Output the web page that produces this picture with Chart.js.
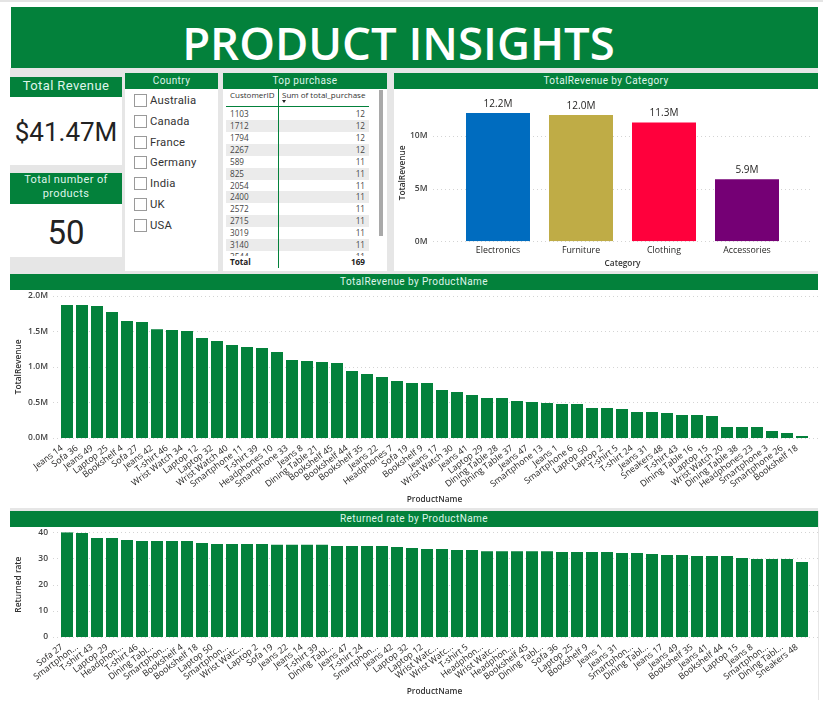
<!DOCTYPE html>
<html><head><meta charset="utf-8">
<script src="https://cdn.jsdelivr.net/npm/chart.js@4/dist/chart.umd.min.js"></script>
<style>
html,body{margin:0;padding:0;background:#fff;width:823px;height:707px;overflow:hidden}
body{position:relative;font-family:"Open Sans",sans-serif}
.a{position:absolute}
.g{background:#03813b}
.w{background:#fff}
.h{color:#dff5ea;font-family:Roboto,sans-serif;text-align:center;letter-spacing:.4px}
canvas{position:absolute;display:block}
</style></head><body>
<div class="a" style="left:0;top:0;width:823px;height:2px;background:#e4e4e4"></div>
<div class="a" style="left:10px;top:68px;width:808px;height:206px;background:#e6e6e6"></div>
<div class="a" style="left:10px;top:508px;width:808px;height:3px;background:#e6e6e6"></div>
<div class="a" style="left:818px;top:511px;width:1px;height:189px;background:#e6e6e6"></div>
<div class="a g" id="banner" style="left:11px;top:7px;width:807px;height:61px;color:#fff;font:600 45.5px 'Open Sans',sans-serif;line-height:70px;text-align:center;box-sizing:border-box;padding-right:32px"></div>

<div class="a g h" id="kpi1h" style="left:10px;top:77px;width:112px;height:20px;line-height:18px;font-size:13px"></div>
<div class="a w" id="kpi1" style="left:10px;top:97px;width:112px;height:68px;text-align:center;font:400 26px/71px Roboto,sans-serif;color:#222"></div>
<div class="a g h" id="kpi2h" style="left:10px;top:173px;width:112px;height:31px;line-height:14px;font-size:11px;box-sizing:border-box"></div>
<div class="a w" id="kpi2" style="left:10px;top:204px;width:112px;height:53px;text-align:center;font:400 33px/57px Roboto,sans-serif;color:#222"></div>

<div class="a w" style="left:125px;top:73px;width:93px;height:198px"></div>
<div class="a g h" style="left:125px;top:73px;width:93px;height:16px;line-height:16px;font-size:10px">Country</div>
<div class="a" id="slicer"></div>

<div class="a w" style="left:223px;top:73px;width:164px;height:198px"></div>
<div class="a g h" style="left:223px;top:73px;width:164px;height:16px;line-height:16px;font-size:10px">Top purchase</div>
<div class="a" id="tbl"></div>

<div class="a w" style="left:394px;top:89px;width:424px;height:182px"></div>
<div class="a g h" style="left:394px;top:73px;width:424px;height:16px;line-height:16px;font-size:10px">TotalRevenue by Category</div>
<canvas id="c1" width="424" height="182" style="left:394px;top:89px"></canvas>

<div class="a g h" style="left:10px;top:274px;width:808px;height:16px;line-height:16px;font-size:10px">TotalRevenue by ProductName</div>
<canvas id="c2" width="808" height="218" style="left:10px;top:290px"></canvas>

<div class="a g h" style="left:10px;top:511px;width:808px;height:16px;line-height:16px;font-size:10px">Returned rate by ProductName</div>
<canvas id="c3" width="808" height="173" style="left:10px;top:527px"></canvas>

<script>
const titleText = "PRODUCT INSIGHTS";
const kpiRevenue = "$41.47M";
const kpiProducts = "50";
const countries = ["Australia","Canada","France","Germany","India","UK","USA"];
const customerIds = ["1103","1712","1794","2267","589","825","2054","2400","2572","2715","3019","3140","3544"];
const purchases = [12,12,12,12,11,11,11,11,11,11,11,11,11];
const purchaseTotal = 169;

const categories = ["Electronics","Furniture","Clothing","Accessories"];
const categoryRevenue = [12200000,12000000,11300000,5900000];
const categoryColors = ["#006cbf","#bfac46","#ff003c","#750075"];
const categoryTicks = [0,5000000,10000000];

const productNames = ["Jeans 14","Sofa 36","Jeans 49","Laptop 25","Bookshelf 4","Sofa 27","Jeans 42","T-shirt 46","Wrist Watch 34","Laptop 12","Laptop 32","Wrist Watch 40","Smartphone 11","T-shirt 39","Headphones 10","Smartphone 33","Jeans 8","Dining Table 21","Bookshelf 45","Bookshelf 44","Bookshelf 35","Jeans 22","Headphones 7","Sofa 19","Bookshelf 9","Jeans 17","Wrist Watch 30","Jeans 41","Laptop 29","Dining Table 28","Dining Table 37","Jeans 47","Smartphone 13","Jeans 1","Smartphone 6","Laptop 50","Laptop 2","T-shirt 5","T-shirt 24","Jeans 31","Sneakers 48","T-shirt 43","Dining Table 16","Laptop 15","Wrist Watch 20","Dining Table 38","Headphones 23","Smartphone 3","Smartphone 26","Bookshelf 18"];
const productRevenue = [1870000,1870000,1855000,1770000,1644000,1630000,1530000,1517000,1503000,1405000,1363000,1307000,1279000,1265000,1208000,1096000,1082000,1068000,1054000,941000,899000,857000,800000,773000,773000,674000,646000,604000,562000,562000,520000,506000,492000,478000,478000,420000,420000,407000,365000,365000,351000,323000,323000,309000,155000,155000,155000,98000,70000,28000];
const productTicks = [0,500000,1000000,1500000,2000000];

const returnNames = ["Sofa 27","Smartphon...","T-shirt 43","Laptop 29","Headphon...","T-shirt 46","Dining Tabl...","Smartphon...","Bookshelf 4","Bookshelf 18","Laptop 50","Smartphon...","Wrist Watc...","Laptop 2","Sofa 19","Jeans 22","Jeans 14","T-shirt 39","Dining Tabl...","Jeans 47","T-shirt 24","Smartphon...","Jeans 42","Laptop 32","Laptop 12","Wrist Watc...","Wrist Watc...","T-shirt 5","Headphon...","Wrist Watc...","Headphon...","Bookshelf 45","Dining Tabl...","Sofa 36","Laptop 25","Bookshelf 9","Jeans 1","Jeans 31","Smartphon...","Dining Tabl...","Jeans 17","Jeans 49","Bookshelf 35","Jeans 41","Bookshelf 44","Laptop 15","Jeans 8","Smartphon...","Dining Tabl...","Sneakers 48"];
const returnRates = [40,39.7,37.8,37.8,37.1,36.7,36.7,36.7,36.7,35.9,35.5,35.5,35.5,35.5,35.2,35.2,35.2,35.2,34.8,34.8,34.8,34.8,34.4,34.0,33.6,33.6,33.2,33.2,32.8,32.8,32.8,32.8,32.8,32.5,32.5,32.5,32.5,32.1,32.1,31.7,31.3,31.3,30.9,30.9,30.9,30.2,29.8,29.8,29.8,28.7];
const returnTicks = [0,10,20,30,40];

document.getElementById('banner').textContent = titleText;
document.getElementById('kpi1h').textContent = "Total Revenue";
document.getElementById('kpi1').textContent = kpiRevenue;
document.getElementById('kpi2h').innerHTML = "Total number of<br>products";
document.getElementById('kpi2').textContent = kpiProducts;

// slicer
const slicerTops = [100,121,142,162,183,204,225];
document.getElementById('slicer').innerHTML = countries.map((c,i)=>
 `<div class="a" style="left:134px;top:${slicerTops[i]-6}px;width:11px;height:11px;border:1px solid #9a9a9a;background:#fff;box-sizing:content-box"></div>`+
 `<div class="a" style="left:150px;top:${slicerTops[i]-7}px;font:400 11.3px/16px Roboto,sans-serif;letter-spacing:.2px;color:#333;white-space:nowrap">${c}</div>`).join('');

// table
const rowCenters = [114,126,138,150,162,174,186,197,209,221,233,245,257];
let t = '<div class="a" style="left:223px;top:89px;width:164px;height:167px;overflow:hidden"><div class="a" style="left:-223px;top:-89px;width:400px;height:300px">';
rowCenters.forEach((y,i)=>{
  if(i%2==1) t += `<div class="a" style="left:226px;top:${y-6}px;width:143px;height:12px;background:#ebebeb"></div>`;
  t += `<div class="a" style="left:230px;top:${y-6}px;font:400 8.2px/12px 'Open Sans',sans-serif;color:#444">${customerIds[i]}</div>`;
  t += `<div class="a" style="left:300px;width:65px;top:${y-6}px;text-align:right;font:400 8.2px/12px 'Open Sans',sans-serif;color:#444">${purchases[i]}</div>`;
});
t += '</div></div>';
t += `<div class="a" style="left:230px;top:89px;font:400 8px/12px 'Open Sans',sans-serif;color:#333;white-space:nowrap">CustomerID</div>`;
t += `<div class="a" style="left:282px;top:89px;font:400 8px/12px 'Open Sans',sans-serif;color:#333;white-space:nowrap">Sum of total_purchase</div>`;
t += `<div class="a" style="left:282px;top:100px;width:0;height:0;border-left:2.5px solid transparent;border-right:2.5px solid transparent;border-top:3px solid #222"></div>`;
t += `<div class="a" style="left:226px;top:106px;width:143px;height:1px;background:#03813b"></div>`;
t += `<div class="a" style="left:278px;top:89px;width:1px;height:179px;background:#03813b"></div>`;
t += `<div class="a" style="left:230px;top:256px;font:700 8.2px/12px 'Open Sans',sans-serif;color:#222">Total</div>`;
t += `<div class="a" style="left:300px;width:65px;top:256px;text-align:right;font:700 8.2px/12px 'Open Sans',sans-serif;color:#222">${purchaseTotal}</div>`;
t += `<div class="a" style="left:379px;top:90px;width:4px;height:146px;background:#a9a9a9"></div>`;
document.getElementById('tbl').innerHTML = t;

// pins the plot rectangle of each panel to the reference's rectangle
const pinArea = {
  id:'pinArea',
  afterLayout(ch,args,o){
    const {x,y} = ch.scales, a = ch.chartArea;
    a.left=o.left; a.right=o.right; a.top=o.top; a.bottom=o.bottom; a.width=o.right-o.left; a.height=o.bottom-o.top;
    y.left=0; y.right=o.left; y.width=o.left; y.top=o.top; y.bottom=o.bottom; y.height=o.bottom-o.top; y.configure();
    x.left=o.left; x.right=o.right; x.width=o.right-o.left; x.top=o.bottom; x.bottom=ch.height; x.height=ch.height-o.bottom; x.configure();
  }
};
// dotted grid spanning wider than the category band, positioned by the y scale
const wideGrid = {
  id:'wideGrid',
  beforeDatasetsDraw(ch,args,o){
    const y = ch.scales.y, c = ch.ctx;
    c.save(); c.strokeStyle='#d4d4d4'; c.lineWidth=1; c.setLineDash([1,3]);
    y.ticks.forEach(t=>{
      const p = Math.round(y.getPixelForValue(t.value))+.5;
      c.beginPath(); c.moveTo(o.from,p); c.lineTo(o.to,p); c.stroke();
    });
    c.restore();
  }
};
const barLabels = {
  id:'barLabels',
  afterDatasetsDraw(ch,args,o){
    if(!o.show) return;
    const c = ch.ctx, m = ch.getDatasetMeta(0);
    c.save(); c.fillStyle='#252423'; c.font="400 10px 'Open Sans',sans-serif"; c.textAlign='center'; c.textBaseline='bottom';
    m.data.forEach((b,i)=>c.fillText((ch.data.datasets[0].data[i]/1e6).toFixed(1)+'M',b.x,b.y-4));
    c.restore();
  }
};
const F = "'Open Sans',sans-serif";
function makeChart(id,labels,data,colors,cfg){
  return new Chart(document.getElementById(id),{
    type:'bar',
    data:{labels,datasets:[{data,backgroundColor:colors,borderWidth:0,categoryPercentage:1,barPercentage:cfg.bar}]},
    plugins:[pinArea,wideGrid,barLabels],
    options:{
      responsive:false,animation:false,devicePixelRatio:1,
      plugins:{legend:{display:false},tooltip:{enabled:false},pinArea:cfg.area,wideGrid:cfg.grid,barLabels:{show:!!cfg.labels}},
      scales:{
        x:{
          grid:{display:false,drawTicks:false},border:{display:false},
          ticks:{autoSkip:false,minRotation:cfg.rot,maxRotation:cfg.rot,padding:cfg.xpad,labelOffset:cfg.xoff||0,color:'#252423',font:{family:F,size:cfg.xfont}},
          title:{display:true,text:cfg.xtitle,color:'#333',font:{family:F,size:8.3,weight:'600'},padding:cfg.xtpad}
        },
        y:{
          min:0,max:cfg.max,
          grid:{display:false,drawTicks:false},border:{display:false},
          afterBuildTicks(s){s.ticks=cfg.ticks.map(value=>({value}));},
          ticks:{padding:cfg.ypad,color:'#444',font:{family:F,size:8.5,weight:'600'},callback:cfg.fmt},
          title:{display:true,text:cfg.ytitle,color:'#333',font:{family:F,size:8.3,weight:'600'},padding:cfg.ytpad}
        }
      }
    }
  });
}
makeChart('c1',categories,categoryRevenue,categoryColors,{
  area:{left:62.5,right:394.5,top:15.5,bottom:152.3},
  bar:.771,grid:{from:39,to:419},labels:true,rot:0,xpad:4,xfont:8.8,
  xtitle:'Category',xtpad:{top:0,bottom:2},max:13000000,ticks:categoryTicks,ypad:29,ytitle:'TotalRevenue',ytpad:{top:4,bottom:0},
  fmt:v=>(v/1e6)+'M'
});
makeChart('c2',productNames,productRevenue,'#03813b',{
  area:{left:49.5,right:799.5,top:5.7,bottom:148},
  bar:.8,grid:{from:43,to:808},rot:37,xpad:5,xoff:-5,xfont:8.8,
  xtitle:'ProductName',xtpad:{top:0,bottom:3},max:2000000,ticks:productTicks,ypad:11.5,ytitle:'TotalRevenue',ytpad:{top:4,bottom:0},
  fmt:v=>(v/1e6).toFixed(1)+'M'
});
makeChart('c3',returnNames,returnRates,'#03813b',{
  area:{left:49.5,right:799.5,top:5.3,bottom:110},
  bar:.8,grid:{from:43,to:808},rot:37,xpad:5,xoff:-5,xfont:8.8,
  xtitle:'ProductName',xtpad:{top:0,bottom:3},max:40,ticks:returnTicks,ypad:11.5,ytitle:'Returned rate',ytpad:{top:4,bottom:0},
  fmt:v=>v
});
</script>
</body></html>
